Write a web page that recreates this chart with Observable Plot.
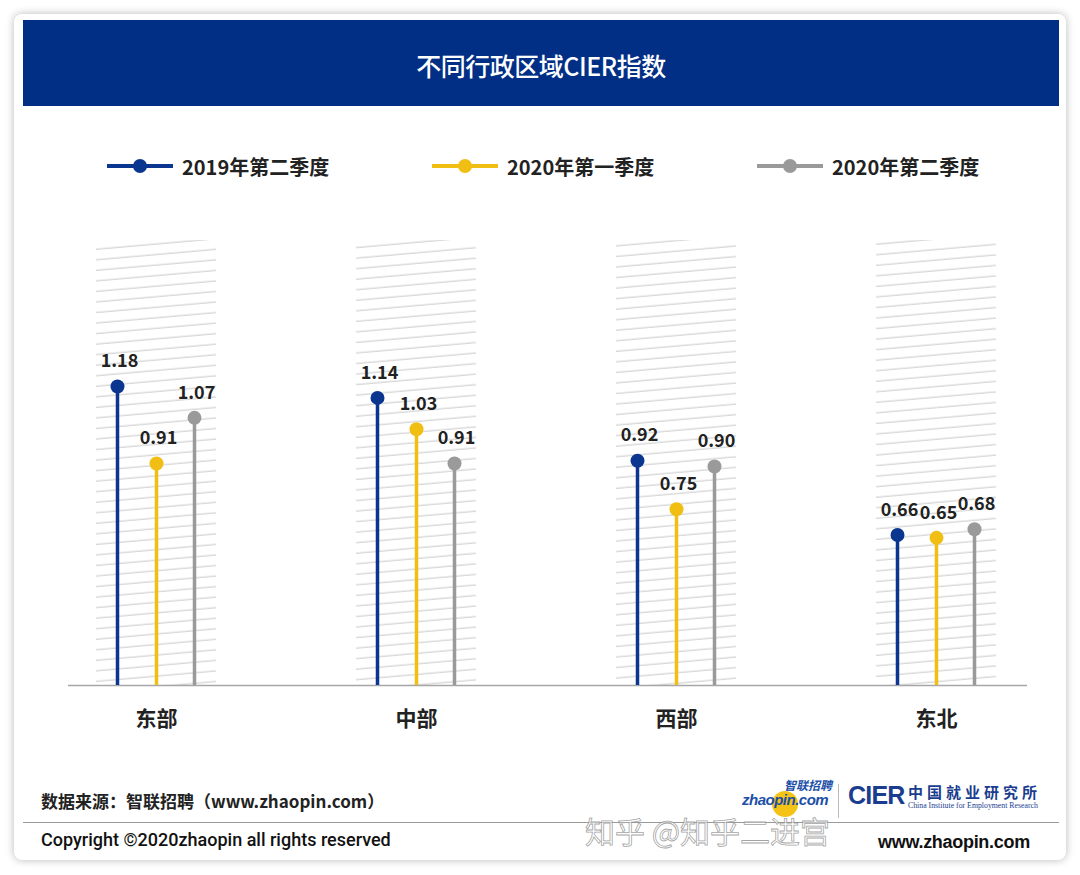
<!DOCTYPE html>
<html>
<head>
<meta charset="utf-8">
<script src="https://cdn.jsdelivr.net/npm/d3@7"></script>
<script src="https://cdn.jsdelivr.net/npm/@observablehq/plot@0.6"></script>
<style>
  html, body { margin: 0; padding: 0; background: #ffffff; }
  body { width: 1080px; height: 875px; position: relative; overflow: hidden;
         font-family: "Noto Sans CJK SC", "Noto Sans", sans-serif; color: #222; }
  #card { position: absolute; left: 14px; top: 14px; width: 1052px; height: 846px;
          background: #fff; border-radius: 8px; box-shadow: 0 0 9px rgba(0,0,0,0.28); }
  #header { position: absolute; left: 23px; top: 20px; width: 1036px; height: 86px;
            background: #022f86; color: #fff; font-size: 25px; font-weight: 500;
            text-align: center; line-height: 90px; letter-spacing: -0.5px; }
  .legend-item { position: absolute; top: 152px; height: 28px; display: flex; align-items: center;
                 font-size: 20px; font-weight: 700; color: #222; }
  .legend-item svg { margin-right: 9px; }
  #chart { position: absolute; left: 0; top: 200px; }
  #chart svg g[aria-label="x-axis"] text, #chart svg g[aria-label="x-axis tick label"] text {
    font-size: 21px; font-weight: 600; fill: #222; }
  .foot { position: absolute; white-space: nowrap; line-height: 1.2; }
  #source { left: 41px; top: 791px; font-size: 17px; font-weight: 700; }
  #sep { position: absolute; left: 23px; top: 822px; width: 1036px; height: 0; border-top: 1px solid #9a9a9a; }
  #copy { left: 41px; top: 829px; font-size: 18px; font-family: Roboto, "Liberation Sans", sans-serif; font-weight: 500; color: #111; }
  #www { left: 878px; top: 832px; font-size: 18px; font-family: "Liberation Sans", Arial, sans-serif; font-weight: 700; color: #111; letter-spacing: -0.3px; }
  #zp { left: 742px; top: 780px; width: 90px; height: 36px; }
  #zpdot { position: absolute; left: 30px; top: 11px; width: 26px; height: 26px; border-radius: 50%; background: #f4c316; }
  #zptext { position: absolute; left: 0; top: 12px; font-family: "Liberation Sans", Arial, sans-serif; font-style: italic;
            font-weight: 700; font-size: 15px; line-height: 1; color: #1c4fa8; letter-spacing: -0.5px; }
  #zpcn { position: absolute; left: 42px; top: -1px; font-size: 12px; line-height: 1; font-weight: 700; font-style: italic; color: #1c4fa8; }
  #vsep { position: absolute; left: 838px; top: 784px; width: 0; height: 34px; border-left: 1px solid #bbb; }
  #cier { left: 848px; top: 783px; font-family: "Liberation Sans", Arial, sans-serif; font-weight: 700; font-size: 25px; line-height: 1; color: #1a3d8f; letter-spacing: -0.8px; }
  #ciercn { left: 908px; top: 784px; font-size: 15px; line-height: 1; font-weight: 700; color: #1a3d8f; letter-spacing: 4px; }
  #cieren { left: 908px; top: 802px; font-size: 7.8px; line-height: 1; font-family: "Liberation Serif", serif; color: #1a3d8f; }
  #wm { left: 585px; top: 814px; font-size: 30px; line-height: 1.1; color: rgba(255,255,255,0.55); -webkit-text-stroke: 0.8px rgba(140,140,140,0.8); font-weight: 400; }
</style>
</head>
<body>
<div id="card"></div>
<div id="header">不同行政区域CIER指数</div>
<div id="legend"></div>
<div id="chart"></div>
<div id="source" class="foot">数据来源：智联招聘（www.zhaopin.com）</div>
<div id="sep"></div>
<div id="copy" class="foot">Copyright ©2020zhaopin all rights reserved</div>
<div id="zp" class="foot"><div id="zpdot"></div><div id="zptext">zhaopin.com</div><div id="zpcn">智联招聘</div></div>
<div id="vsep"></div>
<div id="cier" class="foot">CIER</div>
<div id="ciercn" class="foot">中国就业研究所</div>
<div id="cieren" class="foot">China Institute for Employment Research</div>
<div id="www" class="foot">www.zhaopin.com</div>
<div id="wm" class="foot">知乎 @知乎二进宫</div>
<script>
// ---- data ----
const regions = ["东部", "中部", "西部", "东北"];
const seriesNames = ["2019年第二季度", "2020年第一季度", "2020年第二季度"];
const seriesColors = ["#0b3690", "#f1bf14", "#9a9a9a"];
const values2019Q2 = [1.18, 1.14, 0.92, 0.66];
const values2020Q1 = [0.91, 1.03, 0.75, 0.65];
const values2020Q2 = [1.07, 0.91, 0.90, 0.68];
const yDomain = [0.133, 1.691];

// ---- build table ----
const seriesValues = [values2019Q2, values2020Q1, values2020Q2];
const table = [];
seriesNames.forEach((s, si) => regions.forEach((r, ri) => table.push({region: r, series: s, value: seriesValues[si][ri]})));
const offsets = [-39, 0, 38];

// ---- legend ----
const legendLefts = [107, 432, 757];
const legend = document.getElementById("legend");
seriesNames.forEach((s, i) => {
  const d = document.createElement("div");
  d.className = "legend-item";
  d.style.left = legendLefts[i] + "px";
  d.innerHTML = `<svg width="66" height="18"><line x1="0" y1="9" x2="66" y2="9" stroke="${seriesColors[i]}" stroke-width="4"/><circle cx="33" cy="9" r="7" fill="${seriesColors[i]}"/></svg><span>${s}</span>`;
  legend.appendChild(d);
});

// ---- chart ----
const marks = [
  Plot.barY(regions, {x: d => d, y1: yDomain[0], y2: yDomain[1], insetLeft: 70, insetRight: 70, fill: "url(#hatch)"}),
  Plot.ruleY([yDomain[0]], {stroke: "#a6a6a6", strokeWidth: 1.5, insetLeft: 43, insetRight: 40})
];
seriesNames.forEach((s, i) => {
  const sub = table.filter(d => d.series === s);
  marks.push(
    Plot.ruleX(sub, {x: "region", y1: yDomain[0], y2: "value", dx: offsets[i], stroke: seriesColors[i], strokeWidth: 3.5}),
    Plot.dot(sub, {x: "region", y: "value", dx: offsets[i], r: 7, fill: seriesColors[i]}),
    Plot.text(sub, {x: "region", y: "value", text: d => d.value.toFixed(2), dx: offsets[i] + 2, dy: -25,
                    fontSize: 18, fontWeight: "bold", fill: "#222"})
  );
});

const chart = Plot.plot({
  width: 1080,
  height: 560,
  marginTop: 40,
  marginBottom: 75,
  marginLeft: 25,
  marginRight: 13,
  style: {fontFamily: "'Noto Sans CJK SC', 'Noto Sans', sans-serif", fontSize: "21px", background: "transparent"},
  x: {domain: regions, type: "band", padding: 0, tickSize: 0, tickPadding: 26, label: null},
  y: {domain: yDomain, axis: null},
  marks
});

// hatch pattern definition
const ns = "http://www.w3.org/2000/svg";
const defs = document.createElementNS(ns, "defs");
defs.innerHTML = `<pattern id="hatch" patternUnits="userSpaceOnUse" width="300" height="10.5" patternTransform="rotate(-5)">
  <line x1="0" y1="5" x2="300" y2="5" stroke="#d9d9d9" stroke-width="1.3"/></pattern>`;
chart.insertBefore(defs, chart.firstChild);
document.getElementById("chart").appendChild(chart);
</script>
</body>
</html>
